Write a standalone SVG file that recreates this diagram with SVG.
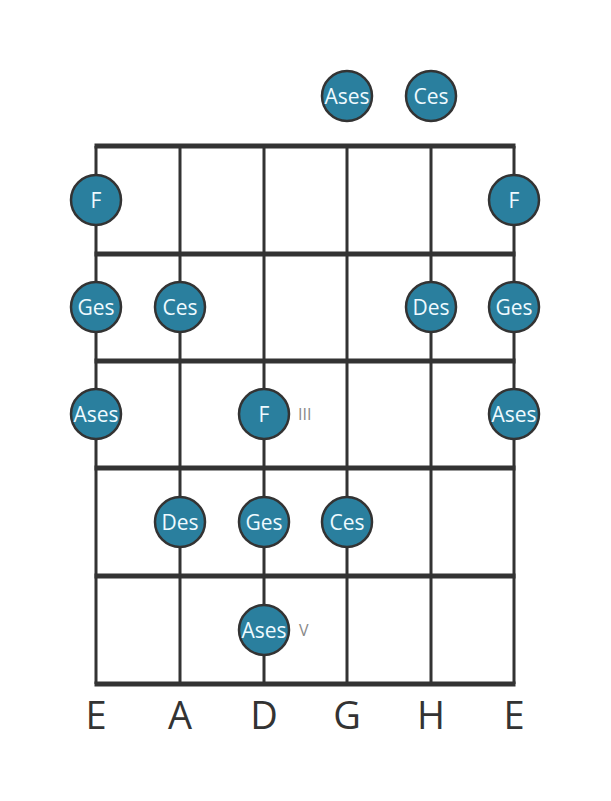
<svg xmlns="http://www.w3.org/2000/svg" width="611" height="801" viewBox="0 0 611 801">
<style>
.s{stroke:#333;stroke-width:3;fill:none}
.f{stroke:#333;stroke-width:5;fill:none}
.n circle{fill:#2a7f9e;stroke:#333;stroke-width:2.5}
.n text{fill:#eefaff;font-family:"Open Sans",sans-serif;font-size:21px;text-anchor:middle;dominant-baseline:central}
.m{fill:#888;font-family:"Open Sans",sans-serif;font-size:16px;dominant-baseline:central}
.l{fill:#333;font-family:"Open Sans",sans-serif;font-size:38px;text-anchor:middle}
</style>
<rect width="611" height="801" fill="#fff"/>
<g id="connectors">
<line class="s" x1="96" y1="146" x2="96" y2="684"/>
<line class="s" x1="180" y1="146" x2="180" y2="684"/>
<line class="s" x1="264" y1="146" x2="264" y2="684"/>
<line class="s" x1="347" y1="146" x2="347" y2="684"/>
<line class="s" x1="431" y1="146" x2="431" y2="684"/>
<line class="s" x1="514" y1="146" x2="514" y2="684"/>
<line class="f" x1="94.5" y1="146" x2="515.5" y2="146"/>
<line class="f" x1="94.5" y1="254" x2="515.5" y2="254"/>
<line class="f" x1="94.5" y1="361" x2="515.5" y2="361"/>
<line class="f" x1="94.5" y1="468" x2="515.5" y2="468"/>
<line class="f" x1="94.5" y1="576" x2="515.5" y2="576"/>
<line class="f" x1="94.5" y1="684" x2="515.5" y2="684"/>
</g>
<g id="n1" class="n"><circle cx="347" cy="96" r="25"/><text x="347" y="96">Ases</text></g>
<g id="n2" class="n"><circle cx="431" cy="96" r="25"/><text x="431" y="96">Ces</text></g>
<g id="n3" class="n"><circle cx="96" cy="200" r="25"/><text x="96" y="200">F</text></g>
<g id="n4" class="n"><circle cx="514" cy="200" r="25"/><text x="514" y="200">F</text></g>
<g id="n5" class="n"><circle cx="96" cy="307" r="25"/><text x="96" y="307">Ges</text></g>
<g id="n6" class="n"><circle cx="180" cy="307" r="25"/><text x="180" y="307">Ces</text></g>
<g id="n7" class="n"><circle cx="431" cy="307" r="25"/><text x="431" y="307">Des</text></g>
<g id="n8" class="n"><circle cx="514" cy="307" r="25"/><text x="514" y="307">Ges</text></g>
<g id="n9" class="n"><circle cx="96" cy="414" r="25"/><text x="96" y="414">Ases</text></g>
<g id="n10" class="n"><circle cx="264" cy="414" r="25"/><text x="264" y="414">F</text></g>
<g id="n11" class="n"><circle cx="514" cy="414" r="25"/><text x="514" y="414">Ases</text></g>
<g id="n12" class="n"><circle cx="180" cy="522" r="25"/><text x="180" y="522">Des</text></g>
<g id="n13" class="n"><circle cx="264" cy="522" r="25"/><text x="264" y="522">Ges</text></g>
<g id="n14" class="n"><circle cx="347" cy="522" r="25"/><text x="347" y="522">Ces</text></g>
<g id="n15" class="n"><circle cx="264" cy="630" r="25"/><text x="264" y="630">Ases</text></g>
<g id="markers">
<text class="m" x="298" y="414">III</text>
<text class="m" x="299" y="630">V</text>
</g>
<g id="labels">
<text class="l" x="96" y="729">E</text>
<text class="l" x="180" y="729">A</text>
<text class="l" x="264" y="729">D</text>
<text class="l" x="347" y="729">G</text>
<text class="l" x="431" y="729">H</text>
<text class="l" x="514" y="729">E</text>
</g>
</svg>
